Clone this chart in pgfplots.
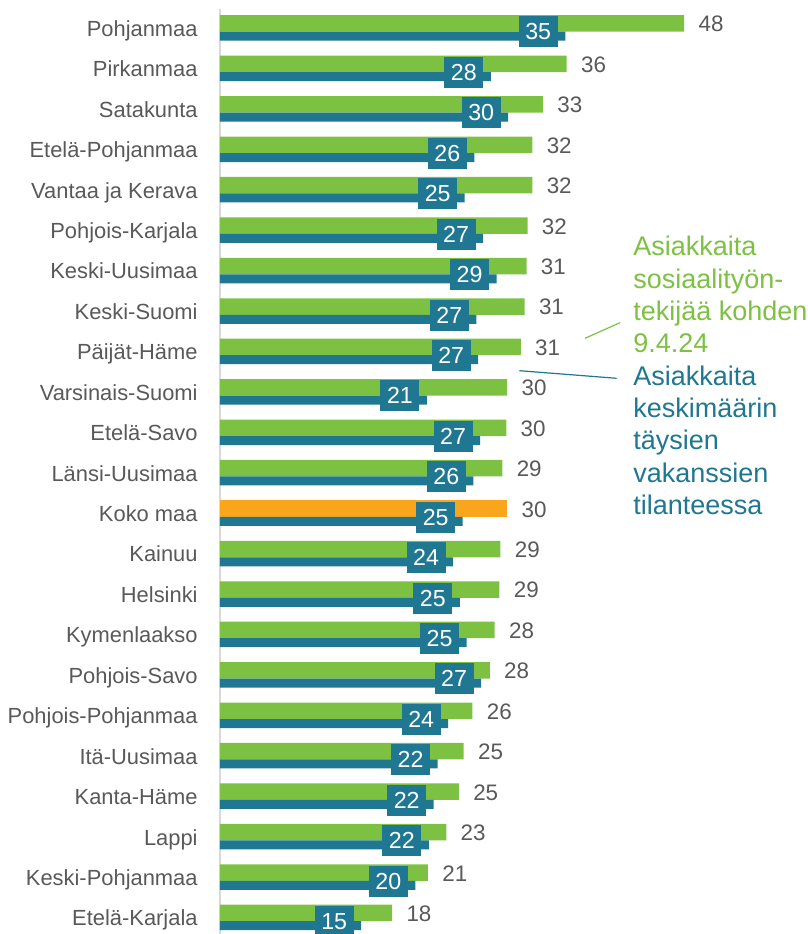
\documentclass[border=0pt]{standalone}
\usepackage{fontspec}
\setmainfont{Liberation Sans}
\usepackage{pgfplots}
\pgfplotsset{compat=1.18}
\usepackage{pgfplotstable}
\definecolor{cgreen}{RGB}{125,193,66}
\definecolor{cblue}{RGB}{31,119,145}
\definecolor{corange}{RGB}{249,166,28}
\definecolor{cgrey}{RGB}{89,89,89}
\definecolor{caxis}{RGB}{217,217,217}

\pgfplotstableread{
y g gl
22 48.0 48
21 35.85 36
20 33.4 33
19 32.3 32
18 32.3 32
17 31.8 32
16 31.7 31
15 31.5 31
14 31.1 31
13 29.7 30
12 29.6 30
11 29.2 29
9 29.0 29
8 28.9 29
7 28.4 28
6 27.9 28
5 26.1 26
4 25.2 25
3 24.7 25
2 23.4 23
1 21.5 21
0 17.8 18
}\greendata

\pgfplotstableread{
y b bl
22 35.7 35
21 28.0 28
20 29.8 30
19 26.3 26
18 25.3 25
17 27.2 27
16 28.6 29
15 26.5 27
14 26.7 27
13 21.4 21
12 26.9 27
11 26.2 26
10 25.1 25
9 24.1 24
8 24.8 25
7 25.5 25
6 27.0 27
5 23.6 24
4 22.5 22
3 22.1 22
2 21.6 22
1 20.2 20
0 14.6 15
}\bluedata

\begin{document}
\begin{tikzpicture}
\begin{axis}[
  scale only axis, width=294pt, height=467pt,
  xmin=0, xmax=60.8, ymin=-0.409, ymax=22.6925,
  axis line style={draw=none},
  xtick=\empty, ytick={0,...,22},
  yticklabels={Etelä-Karjala, Keski-Pohjanmaa, Lappi, Kanta-Häme, Itä-Uusimaa, Pohjois-Pohjanmaa, Pohjois-Savo, Kymenlaakso, Helsinki, Kainuu, Koko maa, Länsi-Uusimaa, Etelä-Savo, Varsinais-Suomi, Päijät-Häme, Keski-Suomi, Keski-Uusimaa, Pohjois-Karjala, Vantaa ja Kerava, Etelä-Pohjanmaa, Satakunta, Pirkanmaa, Pohjanmaa},
  major tick length=0pt,
  yticklabel style={anchor=base east, inner sep=0pt, xshift=-11pt, yshift=-4.2pt, font=\fontsize{10.95}{12}\selectfont, text=cgrey},
  clip=false,
]
\draw[caxis, line width=1pt] (axis cs:0,22.47) -- (axis cs:0,-0.409);

\addplot[xbar, bar width=8.25pt, bar shift=2.25pt, fill=cgreen, draw=none,
  point meta=explicit symbolic, nodes near coords,
  every node near coord/.append style={anchor=west, inner sep=0pt, xshift=7pt, yshift=1.9pt, font=\fontsize{11.2}{12}\selectfont, text=cgrey}]
  table[x=g, y=y, meta=gl] {\greendata};

\addplot[xbar, bar width=8.25pt, bar shift=2.25pt, fill=corange, draw=none,
  point meta=explicit symbolic, nodes near coords,
  every node near coord/.append style={anchor=west, inner sep=0pt, xshift=7pt, yshift=1.9pt, font=\fontsize{11.2}{12}\selectfont, text=cgrey}]
  coordinates {(29.7,10) [30]};

\addplot[xbar, bar width=4.5pt, bar shift=-4.125pt, fill=cblue, draw=none,
  point meta=explicit symbolic, nodes near coords,
  every node near coord/.append style={anchor=center, inner sep=0pt, minimum width=19.5pt, minimum height=15.5pt, fill=cblue, text=white, xshift=-13.5pt, yshift=-2pt, font=\fontsize{11.6}{12}\selectfont}]
  table[x=b, y=y, meta=bl] {\bluedata};
\end{axis}

\draw[cgreen, line width=0.6pt] (182.5pt,297.85pt) -- (200pt,305.65pt);
\draw[cblue, line width=0.6pt] (149.65pt,281.65pt) -- (198.35pt,277.85pt);

\begin{scope}[every node/.style={anchor=base west, inner sep=0pt, font=\fontsize{13.5}{16}\selectfont}]
\node[text=cgreen] at (206.5pt,339pt) {Asiakkaita};
\node[text=cgreen] at (206.5pt,322.85pt) {sosiaalityön-};
\node[text=cgreen] at (206.5pt,306.7pt) {tekijää kohden};
\node[text=cgreen] at (206.5pt,290.55pt) {9.4.24};
\node[text=cblue] at (206.5pt,274.4pt) {Asiakkaita};
\node[text=cblue] at (206.5pt,258.25pt) {keskimäärin};
\node[text=cblue] at (206.5pt,242.1pt) {täysien};
\node[text=cblue] at (206.5pt,225.95pt) {vakanssien};
\node[text=cblue] at (206.5pt,209.8pt) {tilanteessa};
\end{scope}

\pgfresetboundingbox
\useasboundingbox (-110pt,0pt) rectangle (294pt,467pt);
\end{tikzpicture}
\end{document}
